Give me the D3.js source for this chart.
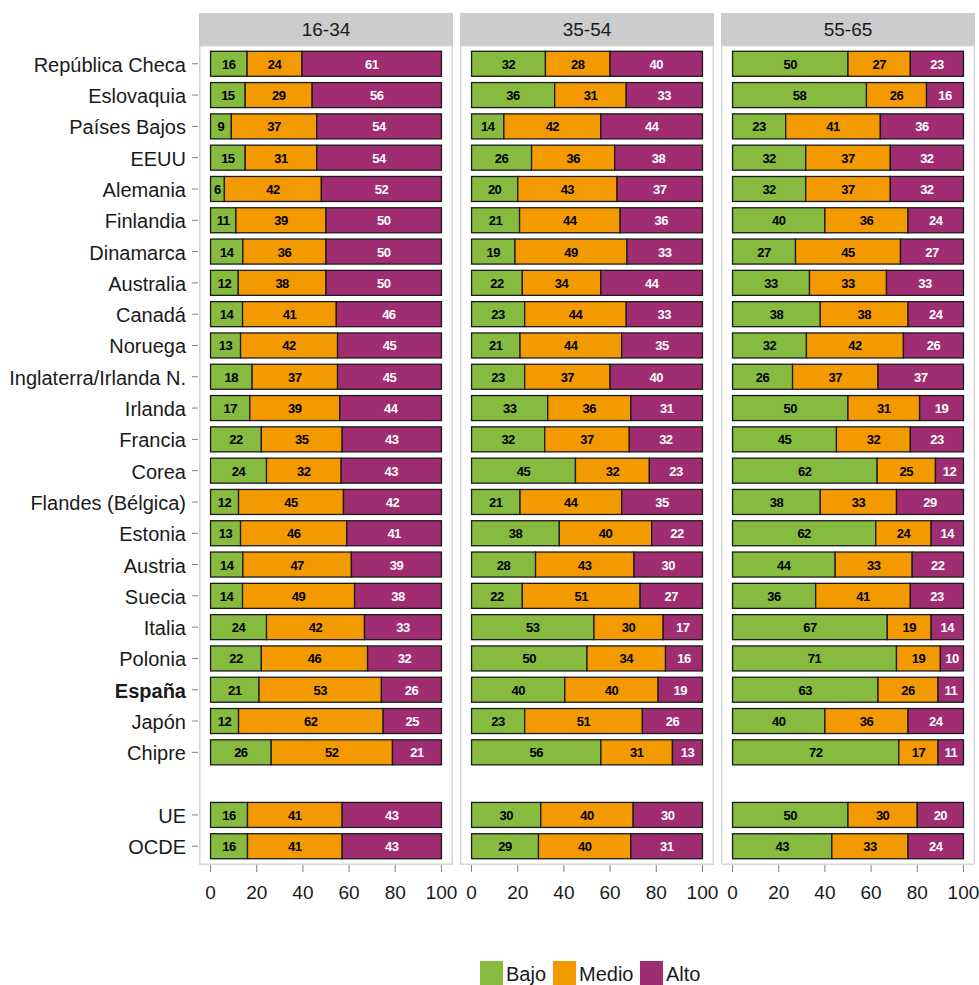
<!DOCTYPE html>
<html><head><meta charset="utf-8">
<script src="https://cdn.jsdelivr.net/npm/d3@7"></script>
<style>body{margin:0;background:#fff;}svg{display:block;font-family:"Liberation Sans",Arial,sans-serif;}</style>
</head><body><div id="chart"></div>
<script>
const countries = ["República Checa","Eslovaquia","Países Bajos","EEUU","Alemania","Finlandia","Dinamarca","Australia","Canadá","Noruega","Inglaterra/Irlanda N.","Irlanda","Francia","Corea","Flandes (Bélgica)","Estonia","Austria","Suecia","Italia","Polonia","España","Japón","Chipre","","UE","OCDE"];
const ageGroups = ["16-34","35-54","55-65"];
const levels = ["Bajo","Medio","Alto"];
const colors = ["#86bb3f","#f39a00","#a02c72"];
const xTicks = [0,20,40,60,80,100];

const bajo_16_34  = [16,15,9,15,6,11,14,12,14,13,18,17,22,24,12,13,14,14,24,22,21,12,26,null,16,16];
const medio_16_34 = [24,29,37,31,42,39,36,38,41,42,37,39,35,32,45,46,47,49,42,46,53,62,52,null,41,41];
const alto_16_34  = [61,56,54,54,52,50,50,50,46,45,45,44,43,43,42,41,39,38,33,32,26,25,21,null,43,43];

const bajo_35_54  = [32,36,14,26,20,21,19,22,23,21,23,33,32,45,21,38,28,22,53,50,40,23,56,null,30,29];
const medio_35_54 = [28,31,42,36,43,44,49,34,44,44,37,36,37,32,44,40,43,51,30,34,40,51,31,null,40,40];
const alto_35_54  = [40,33,44,38,37,36,33,44,33,35,40,31,32,23,35,22,30,27,17,16,19,26,13,null,30,31];

const bajo_55_65  = [50,58,23,32,32,40,27,33,38,32,26,50,45,62,38,62,44,36,67,71,63,40,72,null,50,43];
const medio_55_65 = [27,26,41,37,37,36,45,33,38,42,37,31,32,25,33,24,33,41,19,19,26,36,17,null,30,33];
const alto_55_65  = [23,16,36,32,32,24,27,33,24,26,37,19,23,12,29,14,22,23,14,10,11,24,11,null,20,24];

const panelData = [
  [bajo_16_34, medio_16_34, alto_16_34],
  [bajo_35_54, medio_35_54, alto_35_54],
  [bajo_55_65, medio_55_65, alto_55_65]
];

const W = 979, H = 985;
const svg = d3.select("#chart").append("svg").attr("width", W).attr("height", H);

const panelX = [199, 460, 721];
const panelW = 254;
const stripTop = 13, stripH = 32;
const panelTop = stripTop + stripH, panelBottom = 865;

const nRows = countries.length;
const step = (panelBottom - panelTop) / (nRows - 1 + 1.2);
const y = d3.scalePoint().domain(d3.range(nRows)).range([panelTop + 0.6 * step, panelBottom - 0.6 * step]);
const yc = i => y(i);
const barH = 25;

const stackGen = d3.stack().keys([0,1,2]).offset(d3.stackOffsetExpand);

panelData.forEach((series, p) => {
  const x0 = panelX[p];
  const x = d3.scaleLinear().domain([-5, 105]).range([x0, x0 + panelW]);
  const g = svg.append("g");
  g.append("rect").attr("x", x0).attr("y", stripTop).attr("width", panelW).attr("height", stripH).attr("fill", "#cccccc");
  g.append("text").attr("x", x0 + panelW / 2).attr("y", stripTop + stripH / 2 + 7).attr("text-anchor", "middle")
    .attr("font-size", 19).attr("fill", "#1a1a1a").text(ageGroups[p]);
  g.append("rect").attr("x", x0 + 0.75).attr("y", panelTop + 0.75).attr("width", panelW - 1.5).attr("height", panelBottom - panelTop - 1.5)
    .attr("fill", "#fff").attr("stroke", "#d6d6d0").attr("stroke-width", 1.5);

  const rows = countries.map((c, i) => ({i, v: [series[0][i], series[1][i], series[2][i]]})).filter(r => r.v[0] != null);
  const stacked = stackGen(rows.map(r => ({0: r.v[0], 1: r.v[1], 2: r.v[2], idx: r.i})));
  stacked.forEach((layer, k) => {
    layer.forEach(d => {
      const i = d.data.idx;
      const xa = x(d[0] * 100), xb = x(d[1] * 100);
      g.append("rect").attr("x", xa).attr("y", yc(i) - barH / 2).attr("width", xb - xa).attr("height", barH)
        .attr("fill", colors[k]).attr("stroke", "#1a1a1a").attr("stroke-width", 1.3);
      g.append("text").attr("x", (xa + xb) / 2).attr("y", yc(i) + 5).attr("text-anchor", "middle")
        .attr("font-size", 13).attr("font-weight", "bold").attr("fill", k === 2 ? "#fff" : "#000")
        .attr("letter-spacing", -0.5)
        .text(d.data[k]);
    });
  });

  const ax = g.append("g");
  xTicks.forEach(t => {
    ax.append("line").attr("x1", x(t)).attr("x2", x(t)).attr("y1", panelBottom).attr("y2", panelBottom + 7).attr("stroke", "#7f7f7f");
    ax.append("text").attr("x", x(t)).attr("y", panelBottom + 34).attr("text-anchor", "middle").attr("font-size", 19).attr("fill", "#1a1a1a").text(t);
  });
});

countries.forEach((c, i) => {
  if (!c) return;
  svg.append("line").attr("x1", 192).attr("x2", 198).attr("y1", yc(i)).attr("y2", yc(i)).attr("stroke", "#7f7f7f");
  svg.append("text").attr("x", 186).attr("y", yc(i) + 8).attr("text-anchor", "end").attr("font-size", 20)
    .attr("fill", "#1a1a1a").attr("font-weight", c === "España" ? "bold" : "normal").text(c);
});

const legX = [480, 553, 640];
levels.forEach((l, k) => {
  svg.append("rect").attr("x", legX[k]).attr("y", 961).attr("width", 23).attr("height", 24).attr("fill", colors[k]);
  svg.append("text").attr("x", legX[k] + 26).attr("y", 981).attr("font-size", 20).attr("fill", "#1a1a1a").text(l);
});
</script></body></html>
